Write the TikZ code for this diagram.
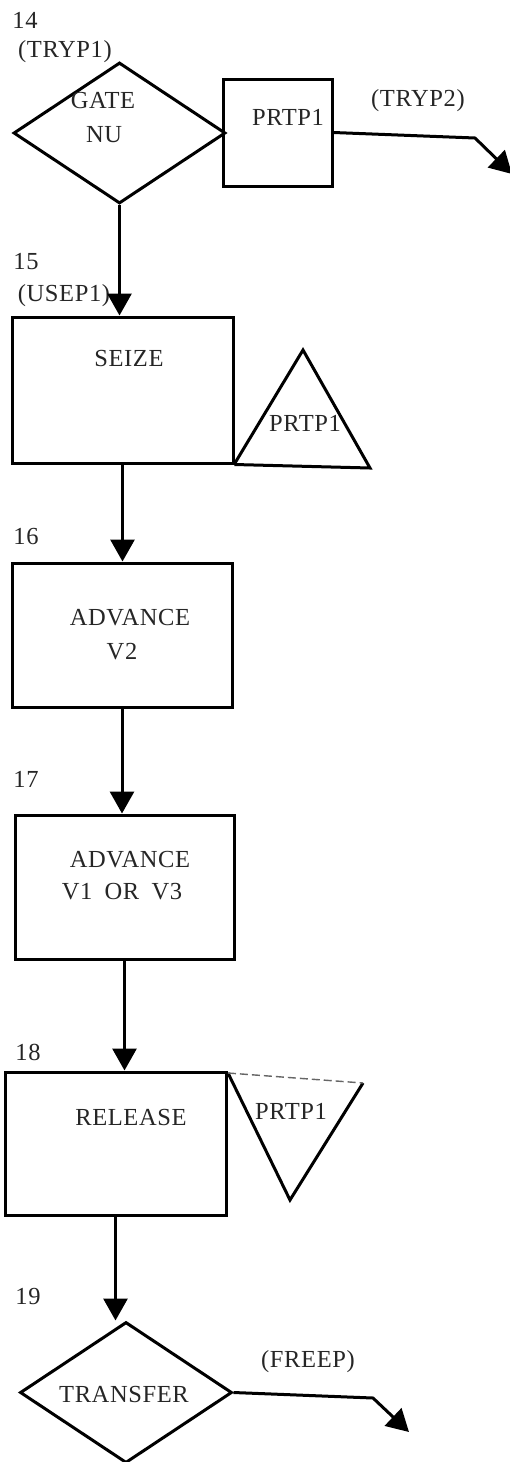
\documentclass[tikz,border=0pt]{standalone}
\usepackage{fontspec}
\setmainfont[LetterSpace=2.5]{Liberation Serif}
\usetikzlibrary{shapes.geometric,arrows.meta}
\begin{document}
\begin{tikzpicture}[x=1pt,y=-1pt,
  every node/.style={font=\fontsize{24.5}{29}\selectfont, inner sep=0pt, text=black!85},
  shp/.style={draw, line width=3pt},
  decision/.style={shp, diamond, minimum width=212pt, minimum height=141pt},
  flow/.style={line width=3pt, -{Triangle[length=22pt,width=24pt]}},
  txt/.style={anchor=center}]
\useasboundingbox[fill=white] (0,0) rectangle (509,1462);

% ---- block 14 ----
\node[txt] (n14) at (25,20) {14};
\node[txt] (l14) at (65,52) {(TRYP1)};
\node[decision] (d1) at (119.5,133) {};
\node[txt] (gate) at (103,101) {GATE};
\node[txt] (nu) at (104,135) {NU};
\node[shp, rectangle, minimum width=109pt, minimum height=107pt] (pbox) at (277.5,132.5) {};
\node[txt] (pboxt) at (288,117) {PRTP1};
\node[txt] (tryp2) at (418,101) {(TRYP2)};
\coordinate (bend1) at (475,138);
\coordinate (tip1) at (512,174);
\draw[flow] (pbox.east) -- (bend1) -- (tip1);

% ---- block 15 ----
\node[txt] (n15) at (26,262) {15};
\node[txt] (l15) at (64,296) {(USEP1)};
\node[shp, rectangle, minimum width=221pt, minimum height=146pt] (seize) at (122.5,390) {};
\node[txt] (seizet) at (129,359) {SEIZE};
\coordinate (t1a) at (303,350);
\coordinate (t1l) at (235,463);
\coordinate (t1r) at (370,468);
\draw[line width=3pt, line join=miter] (seize.south east) -- (t1r) -- (t1a) -- (t1l);
\node[txt] (t1t) at (305,423) {PRTP1};
\draw[flow] (d1.south) -- (d1.south |- seize.north);

% ---- block 16 ----
\node[txt] (n16) at (26,537) {16};
\node[shp, rectangle, minimum width=220pt, minimum height=144pt] (b16) at (122,635) {};
\node[txt] (b16a) at (130,618) {ADVANCE};
\node[txt] (b16b) at (122,652) {V2};
\draw[flow] (seize.south) -- (seize.south |- b16.north);

% ---- block 17 ----
\node[txt] (n17) at (26,779) {17};
\node[shp, rectangle, minimum width=219pt, minimum height=144pt] (b17) at (124.5,887) {};
\node[txt] (b17a) at (130,860) {ADVANCE};
\node[txt] (b17b) at (122,892) {V1\hspace{0.5em}OR\hspace{0.5em}V3};
\draw[flow] (b16.south) -- (b16.south |- b17.north);

% ---- block 18 ----
\node[txt] (n18) at (28,1052) {18};
\node[shp, rectangle, minimum width=221pt, minimum height=143pt] (b18) at (115.5,1143.5) {};
\node[txt] (b18t) at (131,1117) {RELEASE};
\coordinate (t2l) at (228,1073);
\coordinate (t2r) at (363,1083);
\coordinate (t2b) at (290,1200);
\draw[line width=3pt, line join=miter] (t2l) -- (t2b) -- (t2r);
\draw[line width=1.4pt, dash pattern=on 8pt off 4pt, gray!80!black] (t2l) -- (t2r);
\node[txt] (t2t) at (291,1111) {PRTP1};
\draw[flow] (b17.south) -- (b17.south |- b18.north);

% ---- block 19 ----
\node[txt] (n19) at (28,1296) {19};
\node[decision] (d2) at (126,1392.5) {};
\node[txt] (d2t) at (124,1394) {TRANSFER};
\node[txt] (freep) at (308,1362) {(FREEP)};
\coordinate (bend2) at (373,1398);
\coordinate (tip2) at (409,1432);
\draw[flow] (d2.east) -- (bend2) -- (tip2);
\draw[flow] (b18.south) -- (b18.south |- d2.north);
\end{tikzpicture}
\end{document}
